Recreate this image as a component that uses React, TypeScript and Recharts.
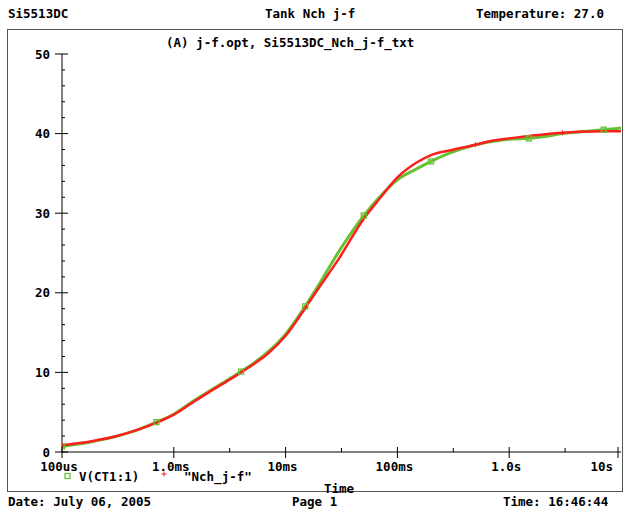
import { Line, LineChart, XAxis, YAxis } from "recharts";

const FONT = '"DejaVu Sans Mono", "Liberation Mono", monospace';

// time in seconds
const times = [
	1e-4, 1.5e-4, 2e-4, 3e-4, 5e-4, 7e-4, 1e-3, 1.5e-3, 2e-3, 3e-3, 4e-3, 5e-3, 7e-3, 1e-2, 1.5e-2, 2e-2, 3e-2, 5e-2,
	7e-2, 0.1, 0.15, 0.2, 0.3, 0.5, 0.7, 1, 1.5, 2, 3, 5, 7, 10,
];
const vCt1 = [
	0.7, 1.05, 1.4, 1.95, 2.9, 3.75, 4.75, 6.4, 7.5, 9.0, 10.1, 11.0, 12.6, 14.8, 18.3, 21.1, 25.2, 29.7, 32.1, 34.2,
	35.6, 36.5, 37.6, 38.6, 39.0, 39.3, 39.4, 39.6, 40.0, 40.3, 40.5, 40.7,
];
const nchJf = [
	0.85, 1.15, 1.45, 1.95, 2.9, 3.7, 4.7, 6.3, 7.4, 8.9, 10.0, 10.9, 12.4, 14.6, 18.1, 20.7, 24.3, 29.3, 31.9, 34.5,
	36.4, 37.3, 37.9, 38.6, 39.1, 39.4, 39.7, 39.9, 40.1, 40.25, 40.3, 40.3,
];
const greenMarks = [1e-4, 7e-4, 4e-3, 1.5e-2, 5e-2, 0.2, 1.5, 7];
const redMarks = [1e-4, 1.5e-2, 0.5, 3];

const decadeTicks = [1e-4, 1e-3, 1e-2, 1e-1, 1, 10];
const decadeLabels = ["100us", "1.0ms", "10ms", "100ms", "1.0s", "10s"];
const xTicks = [1e-4, 3.162e-4, 1e-3, 3.162e-3, 1e-2, 3.162e-2, 1e-1, 0.3162, 1, 3.162, 10];
const yTicks = [0, 2, 4, 6, 8, 10, 12, 14, 16, 18, 20, 22, 24, 26, 28, 30, 32, 34, 36, 38, 40, 42, 44, 46, 48, 50];
const yLabels = [0, 10, 20, 30, 40, 50];

const data = times.map((t, i) => ({ t, v: vCt1[i], n: nchJf[i] }));

const GREEN = "#66c232";
const RED = "#ff1e1e";

const txt: React.CSSProperties = {
	position: "absolute",
	fontFamily: FONT,
	fontWeight: "bold",
	fontSize: 12.5,
	lineHeight: "12.5px",
	whiteSpace: "pre",
	color: "#000",
};

function BottomTick(props: any) {
	const { x, y, payload } = props;
	const i = decadeTicks.indexOf(payload.value);
	const major = i >= 0;
	const last = i === decadeTicks.length - 1;
	return (
		<g>
			<line x1={x} x2={x} y1={y - (major ? 5 : 4)} y2={y + (major ? 6 : 0)} stroke="#000" />
			{major && (
				<text
					x={last ? x - 5 : x - 3}
					y={y + 19}
					textAnchor={last ? "end" : "middle"}
					fontFamily={FONT}
					fontWeight="bold"
					fontSize={12.5}
					fill="#000"
				>
					{decadeLabels[i]}
				</text>
			)}
		</g>
	);
}

function TopTick(props: any) {
	const { x, y, payload } = props;
	const major = decadeTicks.includes(payload.value);
	return <line x1={x} x2={x} y1={y} y2={y + (major ? 5 : 4)} stroke="#000" />;
}

function LeftTick(props: any) {
	const { x, y, payload } = props;
	const major = yLabels.includes(payload.value);
	return (
		<g>
			<line x1={major ? x - 7 : x} x2={x + (major ? 6 : 3)} y1={y} y2={y} stroke="#000" />
			{major && (
				<text x={x - 12} y={y + 4.5} textAnchor="end" fontFamily={FONT} fontWeight="bold" fontSize={12.5} fill="#000">
					{payload.value}
				</text>
			)}
		</g>
	);
}

function RightTick(props: any) {
	const { x, y, payload } = props;
	const major = yLabels.includes(payload.value);
	return <line x1={x - (major ? 6 : 3)} x2={x} y1={y} y2={y} stroke="#000" />;
}

function greenDot(p: any) {
	if (!greenMarks.includes(p.payload.t)) return <g key={p.index} />;
	return (
		<rect key={p.index} x={p.cx - 2.5} y={p.cy - 2.5} width={5} height={5} fill="none" stroke={GREEN} strokeWidth={1.3} />
	);
}

function redDot(p: any) {
	if (!redMarks.includes(p.payload.t)) return <g key={p.index} />;
	return (
		<g key={p.index} stroke={RED} strokeWidth={1}>
			<line x1={p.cx - 2.5} x2={p.cx + 2.5} y1={p.cy} y2={p.cy} />
			<line x1={p.cx} x2={p.cx} y1={p.cy - 2.5} y2={p.cy + 2.5} />
		</g>
	);
}

export default function App() {
	return (
		<div style={{ position: "absolute", left: 0, top: 0, width: 626, height: 513, background: "#fff", overflow: "hidden" }}>
			<div style={{ ...txt, left: 8, top: 8 }}>Si5513DC</div>
			<div style={{ ...txt, left: 265, top: 8 }}>Tank Nch j-f</div>
			<div style={{ ...txt, left: 476, top: 8 }}>Temperature: 27.0</div>

			<div
				style={{
					position: "absolute",
					left: 7,
					top: 29,
					width: 614,
					height: 461,
					border: "1px solid #555",
				}}
			/>
			<div style={{ ...txt, left: 166, top: 37 }}>(A) j-f.opt, Si5513DC_Nch_j-f_txt</div>

			<div style={{ position: "absolute", left: 0, top: 0 }}>
				<LineChart width={626} height={513} data={data} margin={{ top: 54, right: 5, bottom: 31, left: 22 }}>
					<XAxis
						xAxisId="b"
						dataKey="t"
						type="number"
						scale="log"
						domain={[1e-4, 10]}
						ticks={xTicks}
						tick={BottomTick}
						tickLine={false}
						tickSize={0}
						tickMargin={0}
						height={30}
						axisLine={{ stroke: "#000" }}
						allowDataOverflow
					/>
					<XAxis
						xAxisId="t"
						dataKey="t"
						type="number"
						scale="log"
						orientation="top"
						domain={[1e-4, 10]}
						ticks={xTicks}
						tick={TopTick}
						tickLine={false}
						tickSize={0}
						tickMargin={0}
						height={0}
						axisLine={{ stroke: "#000" }}
						allowDataOverflow
					/>
					<YAxis
						yAxisId="l"
						type="number"
						domain={[0, 50]}
						ticks={yTicks}
						tick={LeftTick}
						tickLine={false}
						tickSize={0}
						tickMargin={0}
						width={40}
						interval={0}
						axisLine={{ stroke: "#000" }}
					/>
					<YAxis
						yAxisId="r"
						orientation="right"
						type="number"
						domain={[0, 50]}
						ticks={yTicks}
						tick={RightTick}
						tickLine={false}
						tickSize={0}
						tickMargin={0}
						width={0}
						interval={0}
						axisLine={{ stroke: "#000" }}
					/>
					<Line
						xAxisId="b"
						yAxisId="l"
						dataKey="v"
						name="V(CT1:1)"
						type="monotone"
						stroke={GREEN}
						strokeWidth={3}
						dot={greenDot}
						activeDot={false}
						isAnimationActive={false}
					/>
					<Line
						xAxisId="b"
						yAxisId="l"
						dataKey="n"
						name='"Nch_j-f"'
						type="monotone"
						stroke={RED}
						strokeWidth={2.5}
						dot={redDot}
						activeDot={false}
						isAnimationActive={false}
					/>
				</LineChart>
			</div>

			<svg style={{ position: "absolute", left: 0, top: 0 }} width={626} height={513}>
				<rect x={65} y={473.5} width={5} height={5} fill="none" stroke={GREEN} strokeWidth={1.3} />
				<g stroke={RED} strokeWidth={1}>
					<line x1={161.5} x2={166.5} y1={474} y2={474} />
					<line x1={164} x2={164} y1={471.5} y2={476.5} />
				</g>
			</svg>
			<div style={{ ...txt, left: 79, top: 471 }}>V(CT1:1)</div>
			<div style={{ ...txt, left: 184, top: 471 }}>"Nch_j-f"</div>
			<div style={{ ...txt, left: 324, top: 483 }}>Time</div>

			<div style={{ ...txt, left: 8, top: 496 }}>Date: July 06, 2005</div>
			<div style={{ ...txt, left: 292, top: 496 }}>Page 1</div>
			<div style={{ ...txt, left: 503, top: 496 }}>Time: 16:46:44</div>
		</div>
	);
}
